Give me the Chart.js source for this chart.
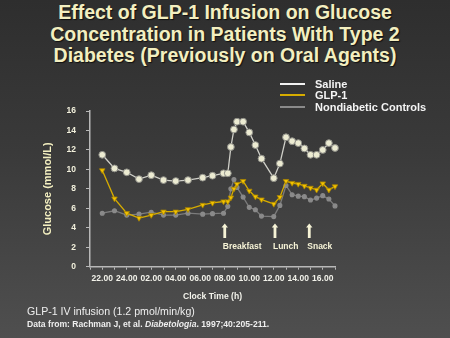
<!DOCTYPE html>
<html lang="en">
<head>
  <meta charset="UTF-8" />
  <title>Effect of GLP-1 Infusion on Glucose Concentration</title>
  <script src="https://cdn.jsdelivr.net/npm/chart.js"></script>
  <style>
    html, body { margin: 0; padding: 0; }
    body { width: 450px; height: 338px; overflow: hidden; position: relative; font-family: Arial, "Liberation Sans", sans-serif;
           background: linear-gradient(#2e2e2e, #3a3a3a 45%, #4f4f4f); }
    #chart { position: absolute; left: 0; top: 0; }
    .title { position: absolute; top: 2px; left: 0; width: 450px; text-align: center; color: #f3efc0; font-weight: bold;
             font-size: 19.5px; line-height: 21.5px; text-shadow: 1px 1px 1px #111; }
    .legend { position: absolute; left: 280px; top: 78.5px; color: #f4f4f4; font-weight: bold; font-size: 11px; line-height: 11.5px; }
    .legend div { white-space: nowrap; }
    .legend span { display: inline-block; width: 25px; height: 2px; margin-right: 10px; vertical-align: middle; position: relative; top: -1px; }
    .note1 { position: absolute; left: 27px; top: 305px; color: #eeeeee; font-size: 10.6px; line-height: 12px; }
    .note2 { position: absolute; left: 27px; top: 319px; color: #eeeeee; font-size: 8.6px; line-height: 10px; font-weight: bold; }
  </style>
</head>
<body>
  <div class="title">Effect of GLP-1 Infusion on Glucose<br>Concentration in Patients With Type 2<br>Diabetes (Previously on Oral Agents)</div>
  <canvas id="chart" width="450" height="338"></canvas>
  <div class="legend" id="legend"></div>
  <div class="note1">GLP-1 IV infusion (1.2 pmol/min/kg)</div>
  <div class="note2">Data from: Rachman J, et al. <i>Diabetologia</i>. 1997;40:205-211.</div>

  <script>
    // hours after 22:00
    const hours = [0, 1, 2, 3, 4, 5, 6, 7, 8.2, 9, 9.9, 10.25, 10.5, 10.75, 11, 11.5, 12, 12.5, 13, 14, 14.5, 15, 15.5, 16, 16.5, 17, 17.5, 18, 18.5, 19];
    const saline   = [11.5, 10.1, 9.7, 9.0, 9.4, 8.9, 8.8, 8.9, 9.15, 9.35, 9.6, 9.6, 12.3, 14.1, 14.9, 14.9, 13.8, 12.5, 11.1, 9.1, 10.6, 13.3, 12.9, 12.7, 12.15, 11.5, 11.5, 12.0, 12.7, 12.2];
    const glp1     = [9.9, 7.0, 5.5, 5.0, 5.3, 5.65, 5.65, 5.9, 6.35, 6.55, 6.7, 6.7, 7.1, 8.0, 8.5, 8.8, 7.8, 7.2, 6.9, 6.45, 7.15, 8.8, 8.6, 8.5, 8.3, 8.1, 7.9, 8.55, 7.9, 8.25];
    const controls = [5.5, 5.75, 5.3, 5.4, 5.6, 5.3, 5.3, 5.5, 5.4, 5.45, 5.5, 6.2, 8.0, 8.95, 8.15, 7.15, 6.1, 5.85, 5.2, 5.15, 6.3, 8.35, 7.4, 7.25, 7.2, 6.85, 7.05, 7.3, 6.95, 6.25];
    const xTickLabels = ["22.00", "24.00", "02.00", "04.00", "06.00", "08.00", "10.00", "12.00", "14.00", "16.00"];
    const seriesNames = ["Saline", "GLP-1", "Nondiabetic Controls"];
    const mealNames = ["Breakfast", "Lunch", "Snack"];
    const mealTimes = [10.0, 14.1, 16.9];

    const toPoints = vals => vals.map((v, i) => ({ x: hours[i], y: v }));
    const lineColors = ["#cfcfc8", "#d6ac00", "#7c7c7c"];
    const legendColors = ["#f2f2f2", "#d6ac00", "#8a8a8a"];

    document.getElementById("legend").innerHTML = seriesNames.map((n, i) =>
      `<div><span style="background:${legendColors[i]}"></span>${n}</div>`).join("");

    const tickFont = { family: "Arial", size: 8.5, weight: "bold" };

    // meal arrows + labels under the curves
    const mealMarks = {
      id: "mealMarks",
      afterDatasetsDraw(chart) {
        const { ctx, scales: { x, y } } = chart;
        ctx.save();
        ctx.fillStyle = "#f6f3d6";
        ctx.font = "bold 8.5px Arial";
        ctx.textBaseline = "middle";
        mealTimes.forEach((t, i) => {
          const px = x.getPixelForValue(t);
          const top = y.getPixelForValue(4.45);
          const bot = y.getPixelForValue(2.95);
          ctx.beginPath();
          ctx.moveTo(px, top);
          ctx.lineTo(px + 3.2, top + 4);
          ctx.lineTo(px + 1.4, top + 4);
          ctx.lineTo(px + 1.4, bot);
          ctx.lineTo(px - 1.4, bot);
          ctx.lineTo(px - 1.4, top + 4);
          ctx.lineTo(px - 3.2, top + 4);
          ctx.closePath();
          ctx.fill();
          ctx.fillText(mealNames[i], px - 2, y.getPixelForValue(2.05));
        });
        ctx.restore();
      }
    };

    new Chart(document.getElementById("chart").getContext("2d"), {
      type: "line",
      data: {
        datasets: [
          { label: seriesNames[0], data: toPoints(saline), borderColor: lineColors[0], borderWidth: 1.3, clip: false,
            pointRadius: 3.4, pointBackgroundColor: "#ecebd2", pointBorderColor: "#8f8f88", pointBorderWidth: 1, order: 1 },
          { label: seriesNames[1], data: toPoints(glp1), borderColor: lineColors[1], borderWidth: 1.3, clip: false,
            pointStyle: "triangle", rotation: 180, pointRadius: 3.2, pointBackgroundColor: "#f2c200", pointBorderColor: "#a88400", pointBorderWidth: 0.8, order: 2 },
          { label: seriesNames[2], data: toPoints(controls), borderColor: lineColors[2], borderWidth: 1.3, clip: false,
            pointRadius: 1.9, pointBackgroundColor: "#8a8a8a", pointBorderColor: "#8a8a8a", order: 3 }
        ]
      },
      options: {
        responsive: false,
        animation: false,
        devicePixelRatio: 1,
        layout: { padding: { left: 0, top: 111, right: 115, bottom: 0 } },
        plugins: { legend: { display: false }, tooltip: { enabled: false } },
        scales: {
          x: {
            type: "linear", min: -1, max: 19,
            afterFit(s) { s.height = 71.3; },
            grid: { drawOnChartArea: false, color: "#b8b8b8", tickLength: 3 },
            border: { color: "#b8b8b8", width: 1.5 },
            ticks: {
              stepSize: 1, autoSkip: false, maxRotation: 0, padding: 4, color: "#f2f2ea", font: tickFont,
              callback: v => (v >= 0 && v % 2 === 0) ? xTickLabels[v / 2] : ""
            },
            title: { display: true, text: "Clock Time (h)", color: "#f2f2ea", font: { family: "Arial", size: 8.6, weight: "bold" },
                     padding: { top: 0, bottom: 36 } }
          },
          y: {
            min: 0, max: 16,
            afterFit(s) { s.width = 90; },
            grid: { drawOnChartArea: false, color: "#b8b8b8", tickLength: 4 },
            border: { color: "#b8b8b8", width: 1.5 },
            ticks: { stepSize: 2, padding: 10, color: "#f2f0dc", font: tickFont },
            title: { display: true, text: "Glucose (mmol/L)", color: "#f3efc0", font: { family: "Arial", size: 11, weight: "bold" },
                     padding: { top: 41, bottom: 0 } }
          }
        }
      },
      plugins: [mealMarks]
    });
  </script>
</body>
</html>
